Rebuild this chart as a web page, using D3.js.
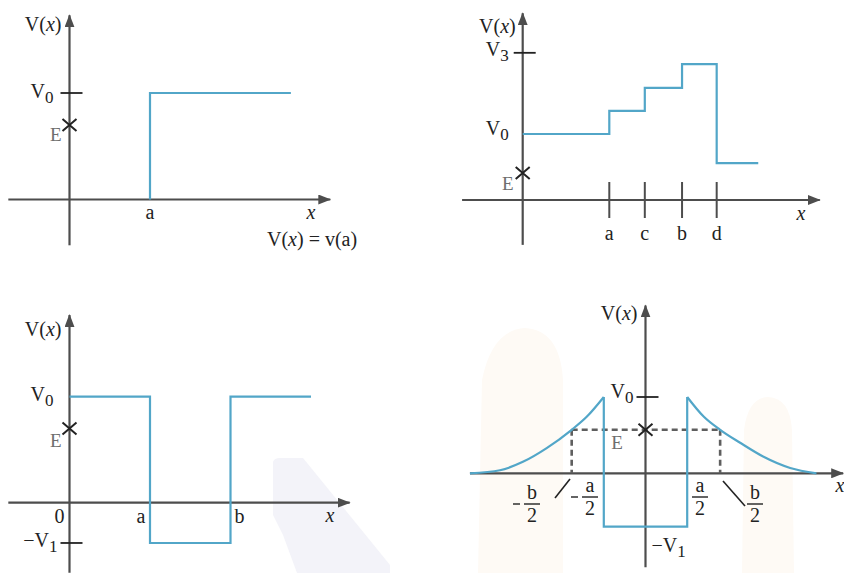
<!DOCTYPE html>
<html><head><meta charset="utf-8">
<script src="https://cdn.jsdelivr.net/npm/d3@7"></script>
<style>
body{margin:0;background:#fff}
svg{display:block}
text{font-family:"Liberation Serif","DejaVu Serif",serif;fill:#222}
</style>
</head><body><svg id="c" width="844" height="573" font-family="Liberation Serif, DejaVu Serif, serif"></svg>
<script>
// ---------- DATA ----------
// Panel 1: step potential
const p1LineX = [1, 1, 2.75];
const p1LineY = [0, 1, 1];
const p1E = 0.7, p1V0 = 1;
const p1XTicks = ["a"], p1XTickPos = [1];

// Panel 2: staircase potential
const p2LineX = [0, 1, 1, 1.41, 1.41, 1.84, 1.84, 2.24, 2.24, 2.72];
const p2LineY = [1, 1, 1.35, 1.35, 1.70, 1.70, 2.06, 2.06, 0.56, 0.56];
const p2E = 0.41, p2V0 = 1, p2V3 = 2.23;
const p2XTicks = ["a", "c", "b", "d"], p2XTickPos = [1, 1.41, 1.84, 2.24];

// Panel 3: well between barriers
const p3LineX = [0, 1, 1, 2, 2, 3];
const p3LineY = [1, 1, -0.38, -0.38, 1, 1];
const p3E = 0.7, p3V0 = 1, p3V1 = -0.38;
const p3XTicks = ["0", "a", "b"], p3XTickPos = [0, 1, 2];

// Panel 4: well with decaying barriers
const p4LeftX = [-4.21, -3.49, -2.94, -2.37, -1.77, -1.41, -1.0];
const p4LeftY = [0, 0.04, 0.15, 0.33, 0.57, 0.74, 1.0];
const p4WellX = [-1, -1, 1, 1];
const p4WellY = [1, -0.70, -0.70, 1];
const p4RightX = [1.0, 1.4, 1.79, 2.27, 2.82, 3.47, 4.1];
const p4RightY = [1.0, 0.74, 0.57, 0.40, 0.22, 0.07, 0];
const p4E = 0.57, p4V0 = 1, p4V1 = -0.70, p4Turn = [-1.77, 1.79];

// ---------- STYLE ----------
const AXIS = "#4d4d4d", LINE = "#52a6c8", GRAY = "#6e6e6e";
const FS = 20;
const FONT = "Liberation Serif, DejaVu Serif, serif";

const svg = d3.select("#c");
const defs = svg.append("defs");
defs.append("marker").attr("id", "arr").attr("viewBox", "0 0 13 10")
  .attr("refX", 12).attr("refY", 5).attr("markerWidth", 13).attr("markerHeight", 10)
  .attr("markerUnits", "userSpaceOnUse").attr("orient", "auto")
  .append("path").attr("d", "M0,0L13,5L0,10Z").attr("fill", AXIS);

// faint watermark shapes
const wm = svg.append("g");
wm.append("path").attr("d", "M273,462 Q274,458 280,458 L303,458 L390,565 L390,573 L297,573 L283,535 L273,515 Z").attr("fill", "#f3f3f9");
wm.append("path").attr("d", "M478,573 L482,380 Q492,330 525,328 Q560,330 563,380 L563,573 Z").attr("fill", "#fefaf5");
wm.append("path").attr("d", "M742,573 L744,430 Q748,398 768,397 Q790,398 792,430 L794,573 Z").attr("fill", "#fefaf5");

function txt(g, x, y, size) {
  return g.append("text").attr("x", x).attr("y", y).attr("font-size", size || FS).attr("font-family", FONT);
}
function vText(g, x, y, pre, sub, anchor, size) {
  const t = txt(g, x, y, size).attr("text-anchor", anchor || "start");
  t.append("tspan").text(pre);
  t.append("tspan").attr("dy", 5).attr("font-size", (size || FS) * 0.85).text(sub);
  return t;
}
function vxLabel(g, x, y) {
  const t = txt(g, x, y).attr("text-anchor", "end");
  t.append("tspan").text("V(");
  t.append("tspan").attr("font-style", "italic").text("x");
  t.append("tspan").text(")");
}
function xLabel(g, x, y) {
  txt(g, x, y).attr("text-anchor", "middle").attr("font-style", "italic").text("x");
}
function eLabel(g, x, y, anchor) {
  txt(g, x, y, 19).attr("text-anchor", anchor || "end").style("fill", GRAY).text("E");
}
function cross(g, x, y) {
  g.append("path").attr("d", `M${x-7},${y-6}L${x+7},${y+6}M${x-7},${y+6}L${x+7},${y-6}`)
    .attr("stroke", "#222").attr("stroke-width", 2).attr("fill", "none");
}
function axes(g, xs, ys, xExt, yExt) {
  g.append("line").attr("x1", xs(xExt[0])).attr("x2", xs(xExt[1])).attr("y1", ys(0)).attr("y2", ys(0))
    .attr("stroke", AXIS).attr("stroke-width", 2.2).attr("marker-end", "url(#arr)");
  g.append("line").attr("x1", xs(0)).attr("x2", xs(0)).attr("y1", ys(yExt[0])).attr("y2", ys(yExt[1]))
    .attr("stroke", AXIS).attr("stroke-width", 2.2).attr("marker-end", "url(#arr)");
}
function yTick(g, xs, ys, v) {
  g.append("line").attr("x1", xs(0) - 9).attr("x2", xs(0) + 13).attr("y1", ys(v)).attr("y2", ys(v))
    .attr("stroke", "#222").attr("stroke-width", 1.8);
}
function pathLine(g, xs, ys, X, Y, curve) {
  const ln = d3.line().x(d => xs(d[0])).y(d => ys(d[1])).curve(curve || d3.curveLinear);
  g.append("path").attr("d", ln(d3.zip(X, Y))).attr("fill", "none")
    .attr("stroke", LINE).attr("stroke-width", 2.2);
}

// ---------- PANEL 1 ----------
{
  const g = svg.append("g");
  const xs = d3.scaleLinear().domain([0, 1]).range([69.5, 150]);
  const ys = d3.scaleLinear().domain([0, 1]).range([199.5, 93]);
  axes(g, xs, ys, [-0.76, 3.24], [-0.43, 1.73]);
  yTick(g, xs, ys, p1V0);
  pathLine(g, xs, ys, p1LineX, p1LineY);
  cross(g, xs(0), ys(p1E));
  vxLabel(g, xs(0) - 8, 31);
  vText(g, xs(0) - 16, ys(p1V0) + 5, "V", "0", "end");
  eLabel(g, xs(0) - 8, ys(p1E) + 16);
  p1XTicks.forEach((t, i) => txt(g, xs(p1XTickPos[i]), 219).attr("text-anchor", "middle").text(t));
  xLabel(g, 311, 219);
  const t = txt(g, 267, 246);
  t.append("tspan").text("V(");
  t.append("tspan").attr("font-style", "italic").text("x");
  t.append("tspan").text(") = v(a)");
}

// ---------- PANEL 2 ----------
{
  const g = svg.append("g");
  const xs = d3.scaleLinear().domain([0, 1]).range([522.7, 609.3]);
  const ys = d3.scaleLinear().domain([0, 1]).range([200, 134]);
  axes(g, xs, ys, [-0.70, 3.43], [-0.68, 2.83]);
  yTick(g, xs, ys, p2V3);
  p2XTickPos.forEach(p => g.append("line").attr("x1", xs(p)).attr("x2", xs(p))
    .attr("y1", 182).attr("y2", 218).attr("stroke", AXIS).attr("stroke-width", 2));
  pathLine(g, xs, ys, p2LineX, p2LineY);
  cross(g, xs(0), ys(p2E));
  vxLabel(g, xs(0) - 7, 33);
  vText(g, xs(0) - 14, ys(p2V3) + 3, "V", "3", "end");
  vText(g, xs(0) - 14, ys(p2V0) + 1, "V", "0", "end");
  eLabel(g, xs(0) - 9, ys(p2E) + 17);
  p2XTicks.forEach((t, i) => txt(g, xs(p2XTickPos[i]), 240).attr("text-anchor", "middle").text(t));
  xLabel(g, 801, 220);
}

// ---------- PANEL 3 ----------
{
  const g = svg.append("g");
  const xs = d3.scaleLinear().domain([0, 1]).range([69.5, 150]);
  const ys = d3.scaleLinear().domain([0, 1]).range([502.7, 396.7]);
  axes(g, xs, ys, [-0.76, 3.48], [-0.66, 1.77]);
  yTick(g, xs, ys, p3V1);
  pathLine(g, xs, ys, p3LineX, p3LineY);
  cross(g, xs(0), ys(p3E));
  vxLabel(g, xs(0) - 8, 336);
  vText(g, xs(0) - 16, ys(p3V0) + 4, "V", "0", "end");
  vText(g, xs(0) - 12, ys(p3V1) + 4, "−V", "1", "end");
  eLabel(g, xs(0) - 8, ys(p3E) + 18);
  const offs = [-10, -9, 9];
  p3XTicks.forEach((t, i) => txt(g, xs(p3XTickPos[i]) + offs[i], 523).attr("text-anchor", "middle").text(t));
  xLabel(g, 330, 522);
}

// ---------- PANEL 4 ----------
{
  const g = svg.append("g");
  const xs = d3.scaleLinear().domain([0, 1]).range([645.5, 687.2]);
  const ys = d3.scaleLinear().domain([0, 1]).range([473.3, 397]);
  axes(g, xs, ys, [-4.21, 4.74], [-1.23, 2.2]);
  yTick(g, xs, ys, p4V0);
  const dash = g.append("g").attr("stroke", "#5f5f5f").attr("stroke-width", 2.6)
    .attr("stroke-dasharray", "6,4").attr("fill", "none");
  dash.append("line").attr("x1", xs(p4Turn[0])).attr("x2", xs(p4Turn[1]))
    .attr("y1", ys(p4E)).attr("y2", ys(p4E));
  p4Turn.forEach(p => dash.append("line").attr("x1", xs(p)).attr("x2", xs(p))
    .attr("y1", ys(p4E)).attr("y2", ys(0)));
  pathLine(g, xs, ys, p4LeftX, p4LeftY, d3.curveMonotoneX);
  pathLine(g, xs, ys, p4WellX, p4WellY);
  pathLine(g, xs, ys, p4RightX, p4RightY, d3.curveMonotoneX);
  cross(g, xs(0), ys(p4E));
  vxLabel(g, xs(0) - 8, 320);
  vText(g, xs(0) - 12, ys(p4V0) + 1, "V", "0", "end");
  vText(g, xs(0) + 6, 552, "−V", "1", "start");
  eLabel(g, 617, 449, "middle");
  function frac(cx, num, topY, minus) {
    txt(g, cx, topY).attr("text-anchor", "middle").text(num);
    g.append("line").attr("x1", cx - 8).attr("x2", cx + 8).attr("y1", topY + 5).attr("y2", topY + 5)
      .attr("stroke", "#222").attr("stroke-width", 1.4);
    txt(g, cx, topY + 23).attr("text-anchor", "middle").text("2");
    if (minus) g.append("line").attr("x1", cx - 19).attr("x2", cx - 12).attr("y1", topY + 5).attr("y2", topY + 5)
      .attr("stroke", "#222").attr("stroke-width", 1.4);
  }
  frac(532, "b", 499, true);
  frac(590, "a", 492, true);
  frac(700, "a", 492, false);
  frac(755, "b", 499, false);
  g.append("line").attr("x1", 555).attr("y1", 498).attr("x2", 570).attr("y2", 479)
    .attr("stroke", "#222").attr("stroke-width", 1.6);
  g.append("line").attr("x1", 723).attr("y1", 481).attr("x2", 745).attr("y2", 506)
    .attr("stroke", "#222").attr("stroke-width", 1.6);
  xLabel(g, 840, 492);
}
</script></body></html>
